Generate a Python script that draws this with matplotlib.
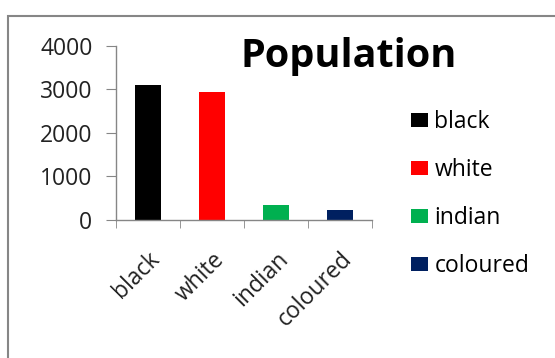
import matplotlib.pyplot as plt
from matplotlib.patches import Rectangle
from matplotlib.transforms import ScaledTranslation

# chart data
groups = ['black', 'white', 'indian', 'coloured']
population = [3100, 2930, 330, 215]
bar_colors = ['#000000', '#FF0000', '#00B050', '#002060']
y_ticks = [0, 1000, 2000, 3000, 4000]

plt.rcParams['font.family'] = ['Open Sans', 'DejaVu Sans']

W, H = 555, 358
fig = plt.figure(figsize=(W / 100, H / 100), dpi=100)
fig.patch.set_facecolor('white')

# outer chart frame (cut off on right and bottom like the screenshot)
fig.patches.append(Rectangle((8 / W, -0.1), 1.2, (H - 16) / H + 0.1,
                             transform=fig.transFigure, fill=False,
                             edgecolor='#868686', linewidth=1.5))

ax = fig.add_axes([116 / W, (H - 219.6) / H, 256 / W, 173.6 / H])
bars = ax.bar(range(len(groups)), population, width=0.4,
              color=bar_colors, label=groups)

ax.set_xlim(-0.5, len(groups) - 0.5)
ax.set_ylim(0, 4000)
ax.set_yticks(y_ticks)
ax.set_xticks(range(len(groups)))
ax.set_xticklabels(groups, rotation=45, ha='right', rotation_mode='anchor')
ax.set_xticks([i - 0.5 for i in range(len(groups) + 1)], minor=True)

# nudge the rotated labels a little to the left
shift = ScaledTranslation(-6 / 72, 0, fig.dpi_scale_trans)
for lbl in ax.get_xticklabels():
    lbl.set_transform(lbl.get_transform() + shift)

for s in ['top', 'right']:
    ax.spines[s].set_visible(False)
for s in ['left', 'bottom']:
    ax.spines[s].set_color('#868686')
    ax.spines[s].set_linewidth(1.0)

ax.tick_params(axis='y', length=7, color='#868686', labelsize=16.5,
               labelcolor='#222222', pad=10)
ax.tick_params(axis='x', which='major', length=0, labelsize=16.5,
               labelcolor='#222222', pad=20)
ax.tick_params(axis='x', which='minor', length=6, color='#868686')

fig.text(349 / W, (H - 66.7) / H, 'Population', fontsize=28.5,
         fontweight='bold', ha='center', va='baseline', color='black')

ax.legend(handles=bars, labels=groups, loc='upper left',
          bbox_to_anchor=(411 / W, (H - 110) / H),
          bbox_transform=fig.transFigure, frameon=False, fontsize=16.5,
          handlelength=0.72, handleheight=0.6, handletextpad=0.3,
          labelspacing=1.05, borderaxespad=0, borderpad=0)

fig.savefig('out.png', dpi=100)
